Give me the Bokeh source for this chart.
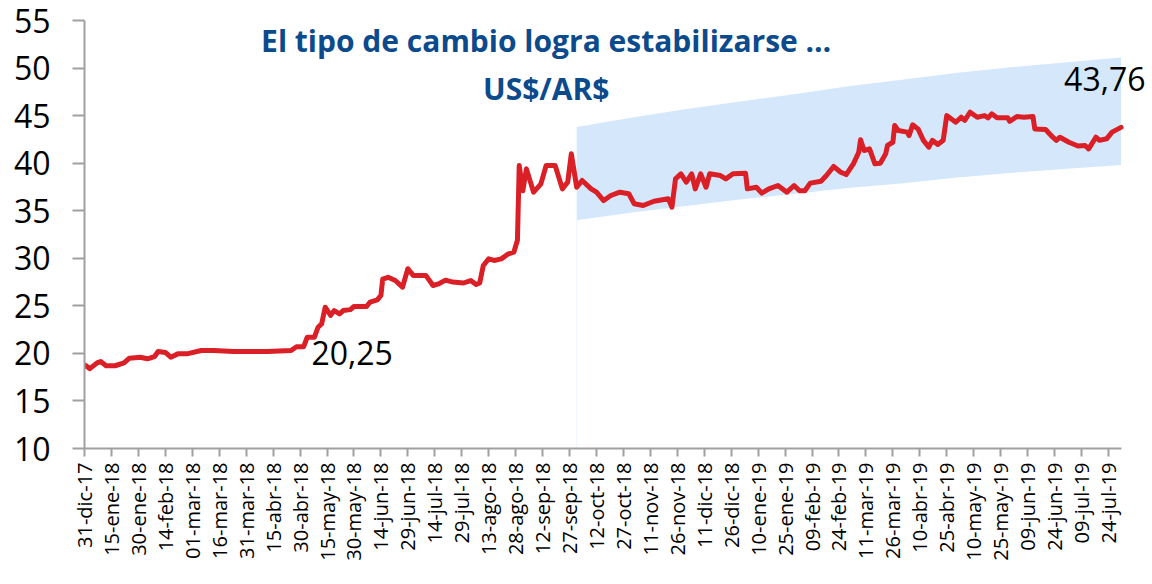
import math
from datetime import datetime
import pandas as pd
from bokeh.plotting import figure
from bokeh.models import Range1d, FixedTicker, Label
from bokeh.embed import file_html
from bokeh.resources import INLINE

# ---------------- data ----------------
FX_DATES = [
    "2017-12-31", "2018-01-03", "2018-01-07", "2018-01-09", "2018-01-12", "2018-01-17",
    "2018-01-22", "2018-01-25", "2018-01-31", "2018-02-04", "2018-02-08", "2018-02-10",
    "2018-02-14", "2018-02-17", "2018-02-21", "2018-02-26", "2018-03-06", "2018-03-13",
    "2018-03-24", "2018-04-12", "2018-04-25", "2018-04-28", "2018-05-02", "2018-05-04",
    "2018-05-08", "2018-05-10", "2018-05-12", "2018-05-14", "2018-05-17", "2018-05-19",
    "2018-05-22", "2018-05-24", "2018-05-28", "2018-05-30", "2018-06-06", "2018-06-08",
    "2018-06-12", "2018-06-14", "2018-06-15", "2018-06-18", "2018-06-22", "2018-06-26",
    "2018-06-29", "2018-07-02", "2018-07-09", "2018-07-13", "2018-07-16", "2018-07-20",
    "2018-07-24", "2018-07-30", "2018-08-03", "2018-08-06", "2018-08-08", "2018-08-10",
    "2018-08-13", "2018-08-16", "2018-08-20", "2018-08-24", "2018-08-27", "2018-08-29",
    "2018-08-30", "2018-09-01", "2018-09-03", "2018-09-07", "2018-09-11", "2018-09-14",
    "2018-09-19", "2018-09-23", "2018-09-26", "2018-09-28", "2018-10-01", "2018-10-04",
    "2018-10-09", "2018-10-12", "2018-10-16", "2018-10-20", "2018-10-25", "2018-10-30",
    "2018-11-02", "2018-11-07", "2018-11-13", "2018-11-21", "2018-11-23", "2018-11-25",
    "2018-11-28", "2018-12-01", "2018-12-04", "2018-12-06", "2018-12-09", "2018-12-12",
    "2018-12-14", "2018-12-20", "2018-12-23", "2018-12-27", "2019-01-03", "2019-01-04",
    "2019-01-09", "2019-01-12", "2019-01-16", "2019-01-21", "2019-01-26", "2019-01-30",
    "2019-02-02", "2019-02-05", "2019-02-08", "2019-02-14", "2019-02-17", "2019-02-21",
    "2019-02-25", "2019-02-28", "2019-03-04", "2019-03-07", "2019-03-08", "2019-03-10",
    "2019-03-13", "2019-03-16", "2019-03-19", "2019-03-22", "2019-03-23", "2019-03-26",
    "2019-03-27", "2019-03-29", "2019-04-03", "2019-04-04", "2019-04-06", "2019-04-09",
    "2019-04-12", "2019-04-15", "2019-04-17", "2019-04-20", "2019-04-23", "2019-04-25",
    "2019-04-30", "2019-05-03", "2019-05-05", "2019-05-08", "2019-05-12", "2019-05-16",
    "2019-05-18", "2019-05-20", "2019-05-23", "2019-05-29", "2019-05-30", "2019-06-03",
    "2019-06-07", "2019-06-12", "2019-06-13", "2019-06-19", "2019-06-23", "2019-06-25",
    "2019-06-27", "2019-07-02", "2019-07-07", "2019-07-11", "2019-07-13", "2019-07-17",
    "2019-07-19", "2019-07-23", "2019-07-26", "2019-07-31",
]
FX_VALUES = [
    18.8, 18.4, 19.0, 19.15, 18.7, 18.7,
    19.0, 19.5, 19.6, 19.43, 19.67, 20.2,
    20.1, 19.6, 19.95, 19.95, 20.3, 20.3,
    20.2, 20.2, 20.3, 20.7, 20.7, 21.7,
    21.7, 22.75, 23.1, 24.85, 24.0, 24.5,
    24.16, 24.5, 24.6, 24.93, 24.93, 25.4,
    25.63, 26.1, 27.8, 28.0, 27.66, 26.96,
    28.9, 28.2, 28.2, 27.14, 27.3, 27.7,
    27.5, 27.4, 27.66, 27.24, 27.4, 29.24,
    29.94, 29.77, 29.94, 30.47, 30.64, 31.9,
    39.75, 37.1, 39.4, 36.95, 37.8, 39.75,
    39.75, 37.3, 38.0, 40.98, 37.47, 38.18,
    37.3, 36.95, 36.07, 36.6, 36.95, 36.78,
    35.73, 35.55, 36.0, 36.25, 35.37, 38.35,
    38.88, 38.0, 38.88, 37.3, 38.88, 37.47,
    38.88, 38.7, 38.35, 38.88, 38.94, 37.3,
    37.47, 36.85, 37.3, 37.65, 36.95, 37.65,
    37.1, 37.1, 37.9, 38.1, 38.7, 39.65,
    39.05, 38.8, 39.93, 41.15, 42.46, 41.33,
    41.5, 39.93, 40.0, 40.98, 41.86, 42.2,
    43.96, 43.43, 43.26, 42.9, 44.03, 43.6,
    42.4, 41.68, 42.4, 41.96, 42.4, 45.0,
    44.3, 44.83, 44.5, 45.36, 44.83, 45.0,
    44.77, 45.19, 44.77, 44.77, 44.4, 44.9,
    44.83, 44.9, 43.6, 43.54, 42.73, 42.4,
    42.73, 42.2, 41.8, 41.86, 41.5, 42.73,
    42.4, 42.56, 43.26, 43.76,
]

BAND_DATES = ["2018-10-01", "2018-11-01", "2018-12-01", "2019-01-01", "2019-02-01",
              "2019-03-01", "2019-04-01", "2019-05-01", "2019-06-01", "2019-07-01",
              "2019-07-31"]
BAND_LOW = [34.0, 34.8, 35.5, 36.2, 36.8, 37.4, 37.9, 38.5, 39.0, 39.4, 39.8]
BAND_HIGH = [43.8, 44.8, 45.7, 46.5, 47.3, 48.1, 48.8, 49.5, 50.1, 50.6, 51.1]

TICK_LABELS = [
    "31-dic-17", "15-ene-18", "30-ene-18", "14-feb-18", "01-mar-18", "16-mar-18",
    "31-mar-18", "15-abr-18", "30-abr-18", "15-may-18", "30-may-18", "14-jun-18",
    "29-jun-18", "14-jul-18", "29-jul-18", "13-ago-18", "28-ago-18", "12-sep-18",
    "27-sep-18", "12-oct-18", "27-oct-18", "11-nov-18", "26-nov-18", "11-dic-18",
    "26-dic-18", "10-ene-19", "25-ene-19", "09-feb-19", "24-feb-19", "11-mar-19",
    "26-mar-19", "10-abr-19", "25-abr-19", "10-may-19", "25-may-19", "09-jun-19",
    "24-jun-19", "09-jul-19", "24-jul-19",
]
Y_TICKS = [10, 15, 20, 25, 30, 35, 40, 45, 50, 55]

TITLE_1 = "El tipo de cambio logra estabilizarse …"
TITLE_2 = "US$/AR$"
LABEL_START = "20,25"
LABEL_END = "43,76"

# ---------------- helpers ----------------
MONTHS = {"ene": 1, "feb": 2, "mar": 3, "abr": 4, "may": 5, "jun": 6,
          "jul": 7, "ago": 8, "sep": 9, "oct": 10, "nov": 11, "dic": 12}


def parse_es(lbl):
    d, m, y = lbl.split("-")
    return datetime(2000 + int(y), MONTHS[m], int(d))


def to_ms(dt):
    return (dt - datetime(1970, 1, 1)).total_seconds() * 1000.0


DAY = 86400000.0
tick_ms = [to_ms(parse_es(t)) for t in TICK_LABELS]
fx_x = pd.to_datetime(FX_DATES)
band_x = pd.to_datetime(BAND_DATES)

FONT = "Open Sans"

p = figure(width=1150, height=576, x_axis_type="datetime",
           output_backend="svg", toolbar_location=None,
           min_border_left=84, min_border_right=2,
           min_border_top=20, min_border_bottom=128)

x_start = to_ms(datetime(2017, 12, 31))
x_axis_end = to_ms(datetime(2019, 7, 31)) + 0.5 * DAY
p.x_range = Range1d(start=x_start, end=x_start + 592.3 * DAY)
p.y_range = Range1d(start=10, end=55)

p.outline_line_color = None
p.xgrid.visible = False
p.ygrid.visible = False
p.background_fill_color = "white"
p.border_fill_color = "white"

# band
p.varea(x=band_x, y1=BAND_LOW, y2=BAND_HIGH, fill_color="#D5E8FB", fill_alpha=1.0)
p.segment(x0=[band_x[0]], y0=[10], x1=[band_x[0]], y1=[BAND_LOW[0]],
          line_color="#EEF5FD", line_width=1)

# line
p.line(x=fx_x, y=FX_VALUES, line_color="#DA1F26", line_width=5,
       line_join="round", line_cap="round")

# axes
xa = p.xaxis[0]
xa.bounds = (x_start, x_axis_end)
xa.ticker = FixedTicker(ticks=tick_ms)
xa.major_label_overrides = {t: l for t, l in zip(tick_ms, TICK_LABELS)}
xa.major_label_orientation = math.pi / 2
xa.major_label_text_font = FONT
xa.major_label_text_font_size = "20px"
xa.major_label_text_color = "black"
xa.major_label_standoff = 6
xa.axis_line_color = "#A0A0A0"
xa.axis_line_width = 2
xa.major_tick_line_color = "#A0A0A0"
xa.major_tick_line_width = 2
xa.major_tick_out = 8
xa.major_tick_in = 0
xa.minor_tick_line_color = None

ya = p.yaxis[0]
ya.ticker = FixedTicker(ticks=Y_TICKS)
ya.major_label_text_font = FONT
ya.major_label_text_font_size = "32px"
ya.major_label_text_color = "black"
ya.major_label_standoff = 22
ya.axis_line_color = "#A0A0A0"
ya.axis_line_width = 2
ya.major_tick_line_color = "#A0A0A0"
ya.major_tick_line_width = 2
ya.major_tick_out = 12
ya.major_tick_in = 0
ya.minor_tick_line_color = None

# title text (inside plot)
title_x = to_ms(datetime(2018, 9, 14))
p.add_layout(Label(x=title_x, y=52.9, text=TITLE_1, text_align="center",
                   text_baseline="middle", text_font=FONT, text_font_style="bold",
                   text_font_size="30px", text_color="#0B4A8C"))
p.add_layout(Label(x=title_x, y=47.85, text=TITLE_2, text_align="center",
                   text_baseline="middle", text_font=FONT, text_font_style="bold",
                   text_font_size="30px", text_color="#0B4A8C"))

# value labels
p.add_layout(Label(x=to_ms(datetime(2018, 5, 29)), y=20.0, text=LABEL_START,
                   text_align="center", text_baseline="middle", text_font=FONT,
                   text_font_size="32px", text_color="black"))
p.add_layout(Label(x=to_ms(datetime(2019, 7, 22)), y=48.9, text=LABEL_END,
                   text_align="center", text_baseline="middle", text_font=FONT,
                   text_font_size="32px", text_color="black"))

open("out.html", "w").write(file_html(p, INLINE))
